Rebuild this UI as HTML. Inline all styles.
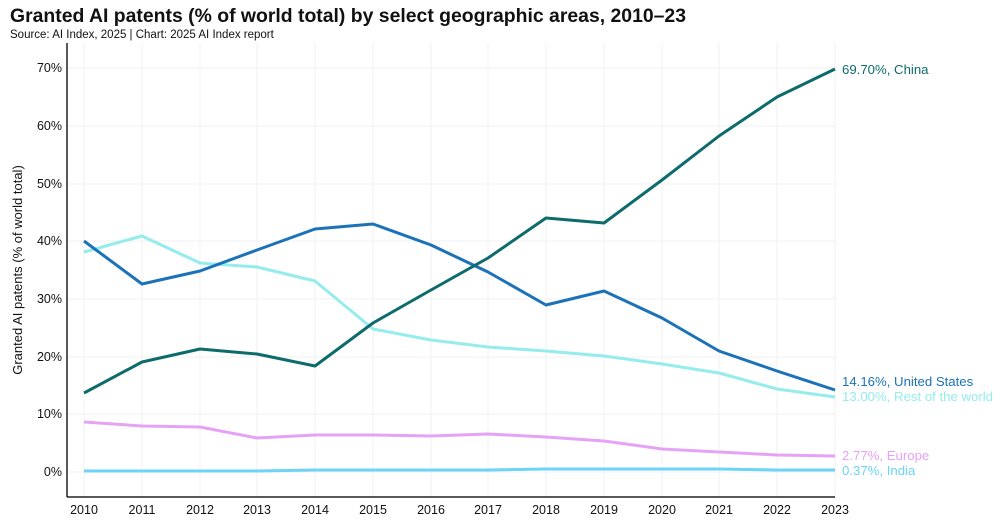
<!DOCTYPE html>
<html><head><meta charset="utf-8"><style>
body{margin:0;background:#fff;width:1000px;height:518px;overflow:hidden;font-family:"Liberation Sans",sans-serif}
</style></head><body>
<svg width="1000" height="518" xmlns="http://www.w3.org/2000/svg" font-family="Liberation Sans, sans-serif">
<text x="10" y="22" font-size="19.4" font-weight="bold" fill="#111">Granted AI patents (% of world total) by select geographic areas, 2010–23</text>
<text x="10" y="38" font-size="11.5" fill="#111">Source: AI Index, 2025 | Chart: 2025 AI Index report</text>
<g stroke="#f0f0f0" stroke-width="1">
<line x1="84" y1="43" x2="84" y2="497"/><line x1="142" y1="43" x2="142" y2="497"/><line x1="200" y1="43" x2="200" y2="497"/><line x1="257" y1="43" x2="257" y2="497"/><line x1="315" y1="43" x2="315" y2="497"/><line x1="373" y1="43" x2="373" y2="497"/><line x1="431" y1="43" x2="431" y2="497"/><line x1="488" y1="43" x2="488" y2="497"/><line x1="546" y1="43" x2="546" y2="497"/><line x1="604" y1="43" x2="604" y2="497"/><line x1="662" y1="43" x2="662" y2="497"/><line x1="719" y1="43" x2="719" y2="497"/><line x1="777" y1="43" x2="777" y2="497"/><line x1="835" y1="43" x2="835" y2="497"/>
<line x1="67" y1="472" x2="835" y2="472"/><line x1="67" y1="414" x2="835" y2="414"/><line x1="67" y1="357" x2="835" y2="357"/><line x1="67" y1="299" x2="835" y2="299"/><line x1="67" y1="241" x2="835" y2="241"/><line x1="67" y1="184" x2="835" y2="184"/><line x1="67" y1="126" x2="835" y2="126"/><line x1="67" y1="68" x2="835" y2="68"/>
</g>
<line x1="67" y1="43" x2="67" y2="497" stroke="#222" stroke-width="1.5"/>
<line x1="67" y1="497" x2="835" y2="497" stroke="#222" stroke-width="1.5"/>
<g font-size="12.5" fill="#111" text-anchor="end">
<text x="62" y="476">0%</text><text x="62" y="418">10%</text><text x="62" y="361">20%</text><text x="62" y="303">30%</text><text x="62" y="245">40%</text><text x="62" y="188">50%</text><text x="62" y="130">60%</text><text x="62" y="72">70%</text>
</g>
<g font-size="12.5" fill="#111" text-anchor="middle">
<text x="84" y="514">2010</text><text x="142" y="514">2011</text><text x="200" y="514">2012</text><text x="257" y="514">2013</text><text x="315" y="514">2014</text><text x="373" y="514">2015</text><text x="431" y="514">2016</text><text x="488" y="514">2017</text><text x="546" y="514">2018</text><text x="604" y="514">2019</text><text x="662" y="514">2020</text><text x="719" y="514">2021</text><text x="777" y="514">2022</text><text x="835" y="514">2023</text>
</g>
<text transform="translate(22,270) rotate(-90)" font-size="13" fill="#111" text-anchor="middle">Granted AI patents (% of world total)</text>
<g fill="none" stroke-width="3" stroke-linejoin="round">
<polyline stroke="#6dd3f7" points="84,471 142,471 200,471 257,471 315,470 373,470 431,470 488,470 546,469 604,469 662,469 719,469 777,470 835,470"/>
<polyline stroke="#e6a2f7" points="84,422 142,426 200,427 257,438 315,435 373,435 431,436 488,434 546,437 604,441 662,449 719,452 777,455 835,456"/>
<polyline stroke="#94ecec" points="84,252 142,236 200,263 257,267 315,281 373,329 431,340 488,347 546,351 604,356 662,364 719,373 777,389 835,397"/>
<polyline stroke="#1c72b8" points="84,241 142,284 200,271 257,250 315,229 373,224 431,245 488,272 546,305 604,291 662,318 719,351 777,371 835,390"/>
<polyline stroke="#0d6b6b" points="84,393 142,362 200,349 257,354 315,366 373,323 431,290 488,258 546,218 604,223 662,180 719,136 777,97 835,69"/>
</g>
<g font-size="13.2">
<text x="842" y="74" fill="#0d6b6b">69.70%, China</text>
<text x="842" y="386" fill="#1c72b8">14.16%, United States</text>
<text x="842" y="401" fill="#94ecec">13.00%, Rest of the world</text>
<text x="842" y="460" fill="#e6a2f7">2.77%, Europe</text>
<text x="842" y="475" fill="#6dd3f7">0.37%, India</text>
</g>
</svg>
</body></html>
